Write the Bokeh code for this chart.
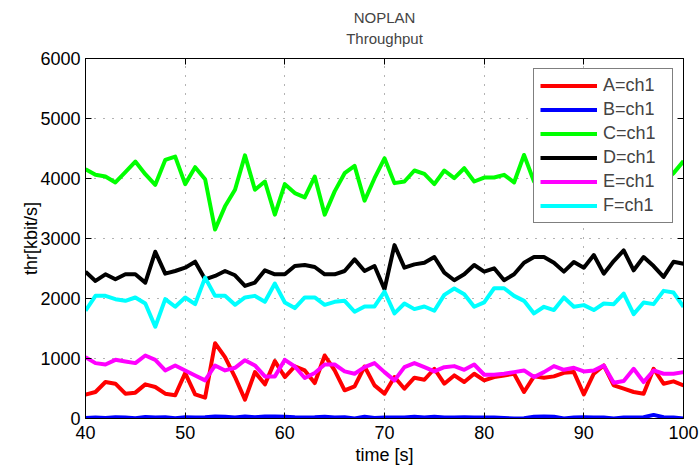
from bokeh.plotting import figure
from bokeh.models import (Legend, LegendItem, LinearAxis, FixedTicker, Title,
                          Range1d, ColumnDataSource, CustomJSTickFormatter)
from bokeh.embed import file_html
from bokeh.resources import INLINE

time_s = list(range(40, 101))

thr_A = [398, 442, 608, 580, 414, 431, 569, 525, 414, 387, 757, 403, 348, 1254, 1022, 691,
         315, 773, 569, 956, 691, 867, 801, 591, 1050, 801, 470, 536, 867, 552, 414, 691,
         497, 680, 646, 829, 580, 718, 608, 746, 635, 691, 718, 746, 442, 702, 680, 702,
         762, 773, 403, 746, 884, 552, 497, 442, 414, 829, 580, 619, 552]
thr_B = [10, 15, 10, 20, 15, 5, 25, 15, 20, 5, 20, 15, 20, 35, 30, 15, 35, 20, 35, 35, 30,
         20, 15, 20, 30, 15, 20, 0, 30, 10, 15, 15, 15, 30, 15, 30, 15, 15, 20, 15, 15, 15,
         10, 0, 5, 30, 35, 30, 0, 15, 20, 15, 15, 0, 15, 15, 20, 60, 20, 15, 0]
thr_C = [4155, 4061, 4033, 3934, 4105, 4282, 4072, 3895, 4309, 4365, 3906, 4188, 3989,
         3149, 3536, 3812, 4385, 3812, 3950, 3398, 3906, 3757, 3685, 4033, 3398, 3785, 4088,
         4210, 3630, 4005, 4337, 3923, 3950, 4133, 4077, 3906, 4133, 4005, 4171, 3950, 4016,
         4016, 4061, 3934, 4392, 3950, 4050, 4100, 3980, 4150, 4000, 3900, 4050, 4200, 3950,
         4080, 4000, 3900, 3950, 4090, 4290]
thr_D = [2448, 2293, 2403, 2320, 2403, 2403, 2265, 2779, 2414, 2458, 2514, 2613, 2320,
         2376, 2458, 2387, 2210, 2265, 2470, 2403, 2403, 2541, 2558, 2525, 2403, 2403, 2458,
         2652, 2458, 2541, 2155, 2890, 2514, 2569, 2597, 2691, 2431, 2304, 2403, 2558, 2448,
         2503, 2304, 2403, 2597, 2691, 2691, 2597, 2448, 2608, 2514, 2724, 2414, 2624, 2801,
         2470, 2691, 2541, 2359, 2613, 2580]
thr_E = [1022, 923, 900, 978, 950, 923, 1050, 978, 801, 884, 801, 718, 635, 884, 801, 845,
         972, 884, 702, 702, 978, 867, 674, 757, 900, 900, 785, 746, 856, 923, 773, 635, 856,
         923, 856, 785, 856, 873, 812, 900, 729, 729, 746, 773, 801, 691, 773, 873, 812, 845,
         785, 801, 884, 597, 624, 829, 608, 801, 746, 746, 773]
thr_F = [1796, 2044, 2044, 1989, 1961, 2017, 1917, 1530, 1989, 1862, 2017, 1906, 2348,
         2044, 2044, 1895, 2017, 2044, 1945, 2249, 1934, 1840, 2017, 2017, 1895, 1945, 1961,
         1779, 1867, 1867, 2116, 1751, 1917, 1823, 1867, 1796, 2061, 2166, 2072, 1862, 1934,
         2171, 2171, 2044, 1961, 1751, 1862, 1807, 2017, 1862, 1890, 1807, 1917, 1906, 2083,
         1740, 1934, 1906, 2127, 2099, 1862]

series_names = ["A=ch1", "B=ch1", "C=ch1", "D=ch1", "E=ch1", "F=ch1"]
series_vals = [thr_A, thr_B, thr_C, thr_D, thr_E, thr_F]
series_colors = ["#ff0000", "#0000ff", "#00ff00", "#000000", "#ff00ff", "#00ffff"]

x_ticks = [40, 50, 60, 70, 80, 90, 100]
y_ticks = [0, 1000, 2000, 3000, 4000, 5000, 6000]

FONT = "Liberation Sans"

p = figure(width=700, height=470, x_range=Range1d(40, 100), y_range=Range1d(0, 6000),
           output_backend="svg", toolbar_location=None,
           min_border_left=85, min_border_right=17, min_border_top=58, min_border_bottom=52)

p.outline_line_color = "black"
p.outline_line_width = 1
p.background_fill_color = "white"
p.border_fill_color = "white"

for ax in (p.xaxis[0], p.yaxis[0]):
    ax.major_label_text_font = FONT
    ax.major_label_text_font_size = "18px"
    ax.axis_label_text_font = FONT
    ax.axis_label_text_font_size = "18px"
    ax.axis_label_text_font_style = "normal"
    ax.major_tick_in = 6
    ax.major_tick_out = 0
    ax.minor_tick_line_color = None
    ax.axis_line_color = "black"
    ax.major_tick_line_color = "black"
    ax.major_label_text_color = "black"
    ax.axis_label_text_color = "black"

p.xaxis[0].ticker = FixedTicker(ticks=x_ticks)
p.yaxis[0].ticker = FixedTicker(ticks=y_ticks)
p.xaxis[0].axis_label = "time [s]"
p.yaxis[0].axis_label = "thr[kbit/s]"
p.xaxis[0].major_label_standoff = 7
p.xaxis[0].axis_label_standoff = 3
p.yaxis[0].major_label_standoff = 5
p.yaxis[0].axis_label_standoff = -4

blank = CustomJSTickFormatter(code="return '';")
top_ax = LinearAxis(ticker=FixedTicker(ticks=x_ticks), major_tick_in=6, major_tick_out=0,
                    minor_tick_line_color=None, formatter=blank,
                    major_label_standoff=0, axis_label_standoff=0, axis_line_color="black")
right_ax = LinearAxis(ticker=FixedTicker(ticks=y_ticks), major_tick_in=6, major_tick_out=0,
                      minor_tick_line_color=None, formatter=blank,
                      major_label_standoff=0, axis_label_standoff=0, axis_line_color="black")
spacer_ax = LinearAxis(ticker=FixedTicker(ticks=x_ticks), major_tick_in=0, major_tick_out=10,
                       minor_tick_line_color=None, major_tick_line_color=None,
                       axis_line_color=None, formatter=blank,
                       major_label_standoff=0, axis_label_standoff=0)
p.add_layout(top_ax, "above")
p.add_layout(spacer_ax, "above")
p.add_layout(right_ax, "right")

p.title.text = "NOPLAN"
p.title.align = "center"
p.title.text_font = FONT
p.title.text_font_size = "15px"
p.title.text_font_style = "normal"
p.title.standoff = 0
p.title.offset = 0
p.add_layout(Title(text="Throughput", align="center", text_font=FONT, text_font_size="15px",
                   text_font_style="normal", standoff=4), "above")

for g in (p.xgrid[0], p.ygrid[0]):
    g.grid_line_color = "black"
    g.grid_line_alpha = 0.6
    g.grid_line_dash = "1 8"
    g.grid_line_width = 1
p.xgrid[0].ticker = FixedTicker(ticks=x_ticks)
p.ygrid[0].ticker = FixedTicker(ticks=y_ticks)

items = []
for name, vals, col in zip(series_names, series_vals, series_colors):
    src = ColumnDataSource(dict(t=time_s, v=vals))
    r = p.line("t", "v", source=src, line_color=col, line_width=4, line_join="round")
    items.append(LegendItem(label=name, renderers=[r]))

legend = Legend(items=items, location="top_right", label_text_font=FONT,
                label_text_font_size="18px", glyph_width=57, glyph_height=21,
                label_height=21, label_width=63, label_standoff=6, spacing=3, padding=6,
                margin=10, border_line_color="black", border_line_width=1,
                background_fill_color="white", background_fill_alpha=1.0)
p.add_layout(legend, "center")

open("out.html", "w").write(file_html(p, INLINE))
